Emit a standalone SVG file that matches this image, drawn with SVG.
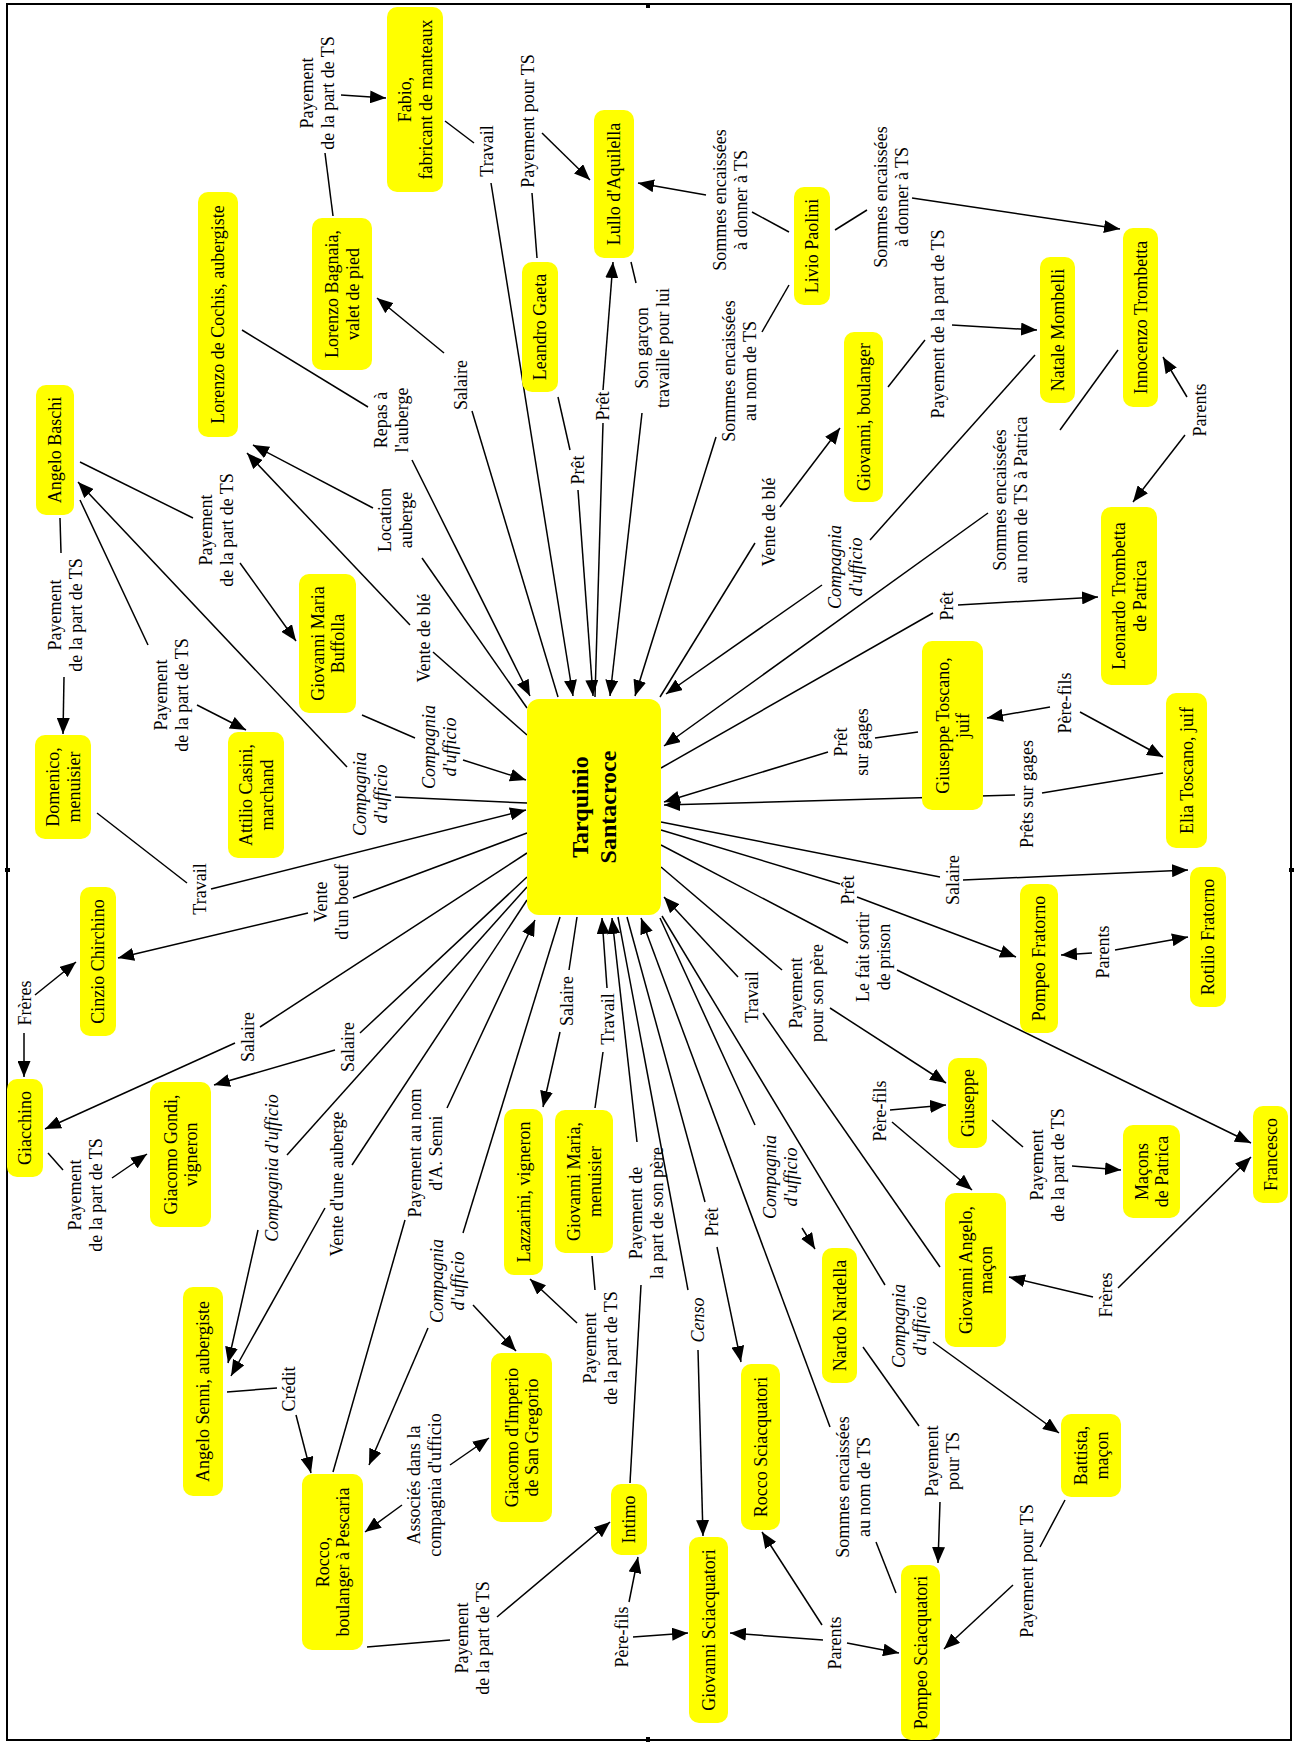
<svg xmlns="http://www.w3.org/2000/svg" width="1298" height="1742" viewBox="0 0 1298 1742">
<style>
.n rect{fill:#ffff00}
.t{font-family:"Liberation Serif","Times New Roman",serif;font-size:18px;text-anchor:middle;fill:#000}
.i{font-style:italic}
.b{font-weight:bold;font-size:24px}
#connectors line{stroke:#000;stroke-width:1.5;fill:none}
#connectors line.a{marker-end:url(#ar)}
.frame{fill:none;stroke:#000;stroke-width:2}
</style>
<defs>
<marker id="ar" viewBox="0 0 16 13" refX="16" refY="6.5" markerWidth="16" markerHeight="13" markerUnits="userSpaceOnUse" orient="auto"><path d="M0,0 L16,6.5 L0,13 Z" fill="#000"/></marker>
</defs>
<rect x="0" y="0" width="1298" height="1742" fill="#fff"/>
<rect class="frame" x="7" y="4" width="1284" height="1736"/>
<g fill="#000"><rect x="646" y="3" width="4" height="5"/><rect x="5" y="868" width="5" height="4"/><rect x="1289" y="868" width="5" height="4"/><rect x="646" y="1737" width="4" height="5"/></g>

<g id="connectors">
<line x1="333" y1="216" x2="325" y2="153"/>
<line class="a" x1="341" y1="95" x2="386" y2="98"/>
<line x1="445" y1="121" x2="474" y2="143"/>
<line class="a" x1="491" y1="183" x2="573" y2="696"/>
<line x1="242" y1="330" x2="368" y2="407"/>
<line class="a" x1="412" y1="460" x2="530" y2="696"/>
<line x1="527" y1="708" x2="422" y2="558"/>
<line class="a" x1="373" y1="508" x2="253" y2="445"/>
<line x1="527" y1="735" x2="433" y2="652"/>
<line class="a" x1="410" y1="625" x2="247" y2="453"/>
<line x1="558" y1="697" x2="472" y2="411"/>
<line class="a" x1="444" y1="353" x2="377" y2="298"/>
<line x1="537" y1="258" x2="532" y2="193"/>
<line class="a" x1="542" y1="133" x2="590" y2="180"/>
<line x1="558" y1="397" x2="570" y2="450"/>
<line class="a" x1="578" y1="490" x2="593" y2="696"/>
<line x1="595" y1="697" x2="603" y2="423"/>
<line class="a" x1="603" y1="390" x2="613" y2="262"/>
<line x1="631" y1="262" x2="636" y2="283"/>
<line class="a" x1="642" y1="413" x2="610" y2="696"/>
<line x1="789" y1="285" x2="762" y2="332"/>
<line class="a" x1="716" y1="437" x2="635" y2="696"/>
<line x1="789" y1="232" x2="752" y2="212"/>
<line class="a" x1="706" y1="195" x2="638" y2="183"/>
<line x1="835" y1="230" x2="867" y2="210"/>
<line class="a" x1="912" y1="198" x2="1120" y2="229"/>
<line x1="888" y1="387" x2="925" y2="340"/>
<line class="a" x1="952" y1="325" x2="1037" y2="330"/>
<line x1="660" y1="697" x2="755" y2="543"/>
<line class="a" x1="780" y1="507" x2="840" y2="428"/>
<line x1="1035" y1="355" x2="870" y2="540"/>
<line class="a" x1="822" y1="585" x2="666" y2="694"/>
<line x1="1118" y1="350" x2="1060" y2="430"/>
<line class="a" x1="988" y1="513" x2="664" y2="746"/>
<line class="a" x1="1187" y1="397" x2="1163" y2="357"/>
<line class="a" x1="1185" y1="435" x2="1133" y2="502"/>
<line x1="661" y1="768" x2="933" y2="613"/>
<line class="a" x1="958" y1="605" x2="1098" y2="597"/>
<line x1="918" y1="732" x2="875" y2="738"/>
<line class="a" x1="828" y1="752" x2="664" y2="802"/>
<line x1="1163" y1="773" x2="1042" y2="793"/>
<line class="a" x1="1015" y1="795" x2="664" y2="805"/>
<line class="a" x1="1050" y1="707" x2="987" y2="718"/>
<line class="a" x1="1080" y1="712" x2="1163" y2="757"/>
<line x1="661" y1="822" x2="940" y2="877"/>
<line class="a" x1="963" y1="880" x2="1188" y2="870"/>
<line x1="661" y1="830" x2="840" y2="884"/>
<line class="a" x1="857" y1="897" x2="1016" y2="957"/>
<line x1="661" y1="845" x2="848" y2="943"/>
<line class="a" x1="897" y1="970" x2="1251" y2="1143"/>
<line x1="661" y1="867" x2="782" y2="970"/>
<line class="a" x1="830" y1="1008" x2="946" y2="1083"/>
<line class="a" x1="738" y1="977" x2="664" y2="897"/>
<line x1="763" y1="1013" x2="940" y2="1267"/>
<line class="a" x1="1092" y1="953" x2="1061" y2="955"/>
<line class="a" x1="1115" y1="950" x2="1188" y2="937"/>
<line class="a" x1="890" y1="1110" x2="946" y2="1105"/>
<line class="a" x1="892" y1="1122" x2="972" y2="1190"/>
<line x1="992" y1="1120" x2="1023" y2="1147"/>
<line class="a" x1="1072" y1="1166" x2="1121" y2="1170"/>
<line class="a" x1="1093" y1="1297" x2="1009" y2="1277"/>
<line class="a" x1="1118" y1="1288" x2="1251" y2="1157"/>
<line x1="662" y1="916" x2="885" y2="1285"/>
<line class="a" x1="933" y1="1342" x2="1059" y2="1433"/>
<line x1="1065" y1="1500" x2="1040" y2="1547"/>
<line class="a" x1="1013" y1="1585" x2="944" y2="1649"/>
<line x1="660" y1="918" x2="755" y2="1125"/>
<line class="a" x1="802" y1="1228" x2="815" y2="1249"/>
<line x1="863" y1="1347" x2="919" y2="1426"/>
<line class="a" x1="940" y1="1502" x2="938" y2="1563"/>
<line x1="896" y1="1593" x2="876" y2="1542"/>
<line class="a" x1="830" y1="1427" x2="641" y2="918"/>
<line x1="627" y1="917" x2="705" y2="1202"/>
<line class="a" x1="717" y1="1247" x2="741" y2="1362"/>
<line x1="618" y1="917" x2="688" y2="1290"/>
<line class="a" x1="698" y1="1350" x2="703" y2="1536"/>
<line class="a" x1="823" y1="1640" x2="730" y2="1633"/>
<line class="a" x1="822" y1="1625" x2="762" y2="1532"/>
<line class="a" x1="847" y1="1643" x2="899" y2="1653"/>
<line class="a" x1="629" y1="1602" x2="638" y2="1557"/>
<line class="a" x1="633" y1="1637" x2="688" y2="1633"/>
<line x1="630" y1="1483" x2="641" y2="1285"/>
<line class="a" x1="637" y1="1142" x2="612" y2="918"/>
<line x1="595" y1="1108" x2="603" y2="1052"/>
<line class="a" x1="607" y1="988" x2="602" y2="918"/>
<line x1="577" y1="917" x2="569" y2="970"/>
<line class="a" x1="560" y1="1032" x2="543" y2="1107"/>
<line x1="592" y1="1256" x2="595" y2="1290"/>
<line class="a" x1="577" y1="1323" x2="530" y2="1279"/>
<line x1="560" y1="917" x2="463" y2="1233"/>
<line class="a" x1="428" y1="1328" x2="369" y2="1465"/>
<line class="a" x1="473" y1="1305" x2="516" y2="1351"/>
<line class="a" x1="402" y1="1505" x2="365" y2="1532"/>
<line class="a" x1="450" y1="1465" x2="489" y2="1438"/>
<line x1="367" y1="1647" x2="450" y2="1640"/>
<line class="a" x1="497" y1="1617" x2="610" y2="1522"/>
<line x1="333" y1="1472" x2="405" y2="1220"/>
<line class="a" x1="447" y1="1108" x2="535" y2="920"/>
<line x1="227" y1="1392" x2="277" y2="1388"/>
<line class="a" x1="296" y1="1415" x2="311" y2="1473"/>
<line x1="527" y1="887" x2="287" y2="1155"/>
<line class="a" x1="258" y1="1230" x2="228" y2="1363"/>
<line x1="527" y1="900" x2="352" y2="1165"/>
<line class="a" x1="325" y1="1208" x2="231" y2="1376"/>
<line x1="527" y1="877" x2="360" y2="1033"/>
<line class="a" x1="335" y1="1050" x2="214" y2="1085"/>
<line x1="527" y1="853" x2="260" y2="1027"/>
<line class="a" x1="235" y1="1043" x2="45" y2="1129"/>
<line x1="48" y1="1153" x2="63" y2="1170"/>
<line class="a" x1="112" y1="1178" x2="147" y2="1154"/>
<line class="a" x1="24" y1="1033" x2="24" y2="1077"/>
<line class="a" x1="35" y1="995" x2="76" y2="962"/>
<line x1="527" y1="833" x2="353" y2="898"/>
<line class="a" x1="308" y1="913" x2="118" y2="958"/>
<line x1="97" y1="813" x2="187" y2="883"/>
<line class="a" x1="211" y1="889" x2="526" y2="810"/>
<line x1="362" y1="715" x2="415" y2="738"/>
<line class="a" x1="463" y1="760" x2="526" y2="780"/>
<line x1="527" y1="803" x2="395" y2="797"/>
<line class="a" x1="347" y1="767" x2="78" y2="482"/>
<line x1="60" y1="518" x2="61" y2="553"/>
<line class="a" x1="64" y1="677" x2="63" y2="734"/>
<line x1="80" y1="500" x2="148" y2="645"/>
<line class="a" x1="197" y1="705" x2="246" y2="730"/>
<line x1="80" y1="462" x2="193" y2="518"/>
<line class="a" x1="240" y1="563" x2="296" y2="641"/>
</g>

<g id="edge-labels" class="t">
<text transform="translate(317,93) rotate(-90)"><tspan x="0" y="-4">Payement</tspan><tspan x="0" y="16.5">de la part de TS</tspan></text>
<text transform="translate(487,151) rotate(-90)" y="6">Travail</text>
<text transform="translate(528,121) rotate(-90)" y="6">Payement pour TS</text>
<text transform="translate(730,200) rotate(-90)"><tspan x="0" y="-4">Sommes encaissées</tspan><tspan x="0" y="16.5">à donner à TS</tspan></text>
<text transform="translate(891,197) rotate(-90)"><tspan x="0" y="-4">Sommes encaissées</tspan><tspan x="0" y="16.5">à donner à TS</tspan></text>
<text transform="translate(739,371) rotate(-90)"><tspan x="0" y="-4">Sommes encaissées</tspan><tspan x="0" y="16.5">au nom de TS</tspan></text>
<text transform="translate(652,348) rotate(-90)"><tspan x="0" y="-4">Son garçon</tspan><tspan x="0" y="16.5">travaille pour lui</tspan></text>
<text transform="translate(603,406) rotate(-90)" y="6">Prêt</text>
<text transform="translate(578,470) rotate(-90)" y="6">Prêt</text>
<text transform="translate(461,385) rotate(-90)" y="6">Salaire</text>
<text transform="translate(391,420) rotate(-90)"><tspan x="0" y="-4">Repas à</tspan><tspan x="0" y="16.5">l'auberge</tspan></text>
<text transform="translate(395,520) rotate(-90)"><tspan x="0" y="-4">Location</tspan><tspan x="0" y="16.5">auberge</tspan></text>
<text transform="translate(424,638) rotate(-90)" y="6">Vente de blé</text>
<text transform="translate(216,530) rotate(-90)"><tspan x="0" y="-4">Payement</tspan><tspan x="0" y="16.5">de la part de TS</tspan></text>
<text transform="translate(65,615) rotate(-90)"><tspan x="0" y="-4">Payement</tspan><tspan x="0" y="16.5">de la part de TS</tspan></text>
<text transform="translate(171,695) rotate(-90)"><tspan x="0" y="-4">Payement</tspan><tspan x="0" y="16.5">de la part de TS</tspan></text>
<text class="i" transform="translate(370,794) rotate(-90)"><tspan x="0" y="-4">Compagnia</tspan><tspan x="0" y="16.5">d'ufficio</tspan></text>
<text class="i" transform="translate(439,747) rotate(-90)"><tspan x="0" y="-4">Compagnia</tspan><tspan x="0" y="16.5">d'ufficio</tspan></text>
<text transform="translate(200,889) rotate(-90)" y="6">Travail</text>
<text transform="translate(331,902) rotate(-90)"><tspan x="0" y="-4">Vente</tspan><tspan x="0" y="16.5">d'un boeuf</tspan></text>
<text transform="translate(25,1003) rotate(-90)" y="6">Frères</text>
<text transform="translate(248,1037) rotate(-90)" y="6">Salaire</text>
<text transform="translate(348,1047) rotate(-90)" y="6">Salaire</text>
<text transform="translate(85,1195) rotate(-90)"><tspan x="0" y="-4">Payement</tspan><tspan x="0" y="16.5">de la part de TS</tspan></text>
<text class="i" transform="translate(272,1168) rotate(-90)" y="6">Compagnia d'ufficio</text>
<text transform="translate(337,1184) rotate(-90)" y="6">Vente d'une auberge</text>
<text transform="translate(425,1153) rotate(-90)"><tspan x="0" y="-4">Payement au nom</tspan><tspan x="0" y="16.5">d'A. Senni</tspan></text>
<text class="i" transform="translate(447,1281) rotate(-90)"><tspan x="0" y="-4">Compagnia</tspan><tspan x="0" y="16.5">d'ufficio</tspan></text>
<text transform="translate(289,1389) rotate(-90)" y="6">Crédit</text>
<text transform="translate(424,1485) rotate(-90)"><tspan x="0" y="-4">Associés dans la</tspan><tspan x="0" y="16.5">compagnia d'ufficio</tspan></text>
<text transform="translate(472,1638) rotate(-90)"><tspan x="0" y="-4">Payement</tspan><tspan x="0" y="16.5">de la part de TS</tspan></text>
<text transform="translate(567,1001) rotate(-90)" y="6">Salaire</text>
<text transform="translate(608,1019) rotate(-90)" y="6">Travail</text>
<text transform="translate(600,1348) rotate(-90)"><tspan x="0" y="-4">Payement</tspan><tspan x="0" y="16.5">de la part de TS</tspan></text>
<text transform="translate(646,1213) rotate(-90)"><tspan x="0" y="-4">Payement de</tspan><tspan x="0" y="16.5">la part de son père</tspan></text>
<text class="i" transform="translate(698,1320) rotate(-90)" y="6">Censo</text>
<text transform="translate(712,1222) rotate(-90)" y="6">Prêt</text>
<text transform="translate(622,1637) rotate(-90)" y="6">Père-fils</text>
<text transform="translate(835,1643) rotate(-90)" y="6">Parents</text>
<text transform="translate(853,1487) rotate(-90)"><tspan x="0" y="-4">Sommes encaissées</tspan><tspan x="0" y="16.5">au nom de TS</tspan></text>
<text class="i" transform="translate(780,1177) rotate(-90)"><tspan x="0" y="-4">Compagnia</tspan><tspan x="0" y="16.5">d'ufficio</tspan></text>
<text transform="translate(942,1461) rotate(-90)"><tspan x="0" y="-4">Payement</tspan><tspan x="0" y="16.5">pour TS</tspan></text>
<text class="i" transform="translate(909,1326) rotate(-90)"><tspan x="0" y="-4">Compagnia</tspan><tspan x="0" y="16.5">d'ufficio</tspan></text>
<text transform="translate(1027,1571) rotate(-90)" y="6">Payement pour TS</text>
<text transform="translate(752,997) rotate(-90)" y="6">Travail</text>
<text transform="translate(806,993) rotate(-90)"><tspan x="0" y="-4">Payement</tspan><tspan x="0" y="16.5">pour son père</tspan></text>
<text transform="translate(873,957) rotate(-90)"><tspan x="0" y="-4">Le fait sortir</tspan><tspan x="0" y="16.5">de prison</tspan></text>
<text transform="translate(848,890) rotate(-90)" y="6">Prêt</text>
<text transform="translate(953,880) rotate(-90)" y="6">Salaire</text>
<text transform="translate(1103,952) rotate(-90)" y="6">Parents</text>
<text transform="translate(880,1111) rotate(-90)" y="6">Père-fils</text>
<text transform="translate(1047,1165) rotate(-90)"><tspan x="0" y="-4">Payement</tspan><tspan x="0" y="16.5">de la part de TS</tspan></text>
<text transform="translate(1106,1295) rotate(-90)" y="6">Frères</text>
<text transform="translate(947,606) rotate(-90)" y="6">Prêt</text>
<text transform="translate(851,742) rotate(-90)"><tspan x="0" y="-4">Prêt</tspan><tspan x="0" y="16.5">sur gages</tspan></text>
<text transform="translate(1027,794) rotate(-90)" y="6">Prêts sur gages</text>
<text transform="translate(1065,703) rotate(-90)" y="6">Père-fils</text>
<text transform="translate(1010,500) rotate(-90)"><tspan x="0" y="-4">Sommes encaissées</tspan><tspan x="0" y="16.5">au nom de TS à Patrica</tspan></text>
<text transform="translate(1200,410) rotate(-90)" y="6">Parents</text>
<text transform="translate(938,324) rotate(-90)" y="6">Payement de la part de TS</text>
<text transform="translate(769,522) rotate(-90)" y="6">Vente de blé</text>
<text class="i" transform="translate(845,567) rotate(-90)"><tspan x="0" y="-4">Compagnia</tspan><tspan x="0" y="16.5">d'ufficio</tspan></text>
</g>

<g id="node-fabio" class="n"><rect x="387" y="7" width="56" height="185" rx="10"/><text class="t" transform="translate(415,99.5) rotate(-90)"><tspan x="0" y="-4">Fabio,</tspan><tspan x="0" y="16.5">fabricant de manteaux</tspan></text></g>
<g id="node-bagnaia" class="n"><rect x="312" y="218" width="60" height="152" rx="10"/><text class="t" transform="translate(342,294) rotate(-90)"><tspan x="0" y="-4">Lorenzo Bagnaia,</tspan><tspan x="0" y="16.5">valet de pied</tspan></text></g>
<g id="node-cochis" class="n"><rect x="198" y="192" width="40" height="245" rx="10"/><text class="t" transform="translate(218,314.5) rotate(-90)" y="6">Lorenzo de Cochis, aubergiste</text></g>
<g id="node-baschi" class="n"><rect x="36" y="385" width="38" height="130" rx="10"/><text class="t" transform="translate(55,450) rotate(-90)" y="6">Angelo Baschi</text></g>
<g id="node-domenico" class="n"><rect x="35" y="735" width="56" height="104" rx="10"/><text class="t" transform="translate(63,787) rotate(-90)"><tspan x="0" y="-4">Domenico,</tspan><tspan x="0" y="16.5">menuisier</tspan></text></g>
<g id="node-attilio" class="n"><rect x="228" y="732" width="56" height="126" rx="10"/><text class="t" transform="translate(256,795) rotate(-90)"><tspan x="0" y="-4">Attilio Casini,</tspan><tspan x="0" y="16.5">marchand</tspan></text></g>
<g id="node-buffolla" class="n"><rect x="299" y="574" width="57" height="139" rx="10"/><text class="t" transform="translate(327.5,643.5) rotate(-90)"><tspan x="0" y="-4">Giovanni Maria</tspan><tspan x="0" y="16.5">Buffolla</tspan></text></g>
<g id="node-tarquinio" class="n"><rect x="527" y="699" width="134" height="216" rx="12"/><text class="t b" transform="translate(594,807) rotate(-90)"><tspan x="0" y="-5.6">Tarquinio</tspan><tspan x="0" y="22.4">Santacroce</tspan></text></g>
<g id="node-leandro" class="n"><rect x="522" y="262" width="36" height="130" rx="10"/><text class="t" transform="translate(540,327) rotate(-90)" y="6">Leandro Gaeta</text></g>
<g id="node-lullo" class="n"><rect x="594" y="110" width="40" height="148" rx="10"/><text class="t" transform="translate(614,184) rotate(-90)" y="6">Lullo d'Aquilella</text></g>
<g id="node-livio" class="n"><rect x="794" y="187" width="36" height="118" rx="10"/><text class="t" transform="translate(812,246) rotate(-90)" y="6">Livio Paolini</text></g>
<g id="node-giovanni-boulanger" class="n"><rect x="844" y="332" width="39" height="170" rx="10"/><text class="t" transform="translate(863.5,417) rotate(-90)" y="6">Giovanni, boulanger</text></g>
<g id="node-natale" class="n"><rect x="1040" y="257" width="35" height="146" rx="10"/><text class="t" transform="translate(1057.5,330) rotate(-90)" y="6">Natale Mombelli</text></g>
<g id="node-innocenzo" class="n"><rect x="1123" y="228" width="35" height="179" rx="10"/><text class="t" transform="translate(1140.5,317.5) rotate(-90)" y="6">Innocenzo Trombetta</text></g>
<g id="node-leonardo" class="n"><rect x="1101" y="507" width="56" height="178" rx="10"/><text class="t" transform="translate(1129,596) rotate(-90)"><tspan x="0" y="-4">Leonardo Trombetta</tspan><tspan x="0" y="16.5">de Patrica</tspan></text></g>
<g id="node-giuseppe-toscano" class="n"><rect x="922" y="641" width="61" height="169" rx="10"/><text class="t" transform="translate(952.5,725.5) rotate(-90)"><tspan x="0" y="-4">Giuseppe Toscano,</tspan><tspan x="0" y="16.5">juif</tspan></text></g>
<g id="node-elia" class="n"><rect x="1166" y="693" width="41" height="155" rx="10"/><text class="t" transform="translate(1186.5,770.5) rotate(-90)" y="6">Elia Toscano, juif</text></g>
<g id="node-rotilio" class="n"><rect x="1190" y="867" width="36" height="140" rx="10"/><text class="t" transform="translate(1208,937) rotate(-90)" y="6">Rotilio Fratorno</text></g>
<g id="node-pompeo-fratorno" class="n"><rect x="1020" y="884" width="38" height="149" rx="10"/><text class="t" transform="translate(1039,958.5) rotate(-90)" y="6">Pompeo Fratorno</text></g>
<g id="node-giuseppe" class="n"><rect x="948" y="1058" width="39" height="90" rx="10"/><text class="t" transform="translate(967.5,1103) rotate(-90)" y="6">Giuseppe</text></g>
<g id="node-macons" class="n"><rect x="1123" y="1125" width="57" height="93" rx="10"/><text class="t" transform="translate(1151.5,1171.5) rotate(-90)"><tspan x="0" y="-4">Maçons</tspan><tspan x="0" y="16.5">de Patrica</tspan></text></g>
<g id="node-francesco" class="n"><rect x="1253" y="1106" width="35" height="97" rx="10"/><text class="t" transform="translate(1270.5,1154.5) rotate(-90)" y="6">Francesco</text></g>
<g id="node-giovanni-angelo" class="n"><rect x="945" y="1193" width="61" height="154" rx="10"/><text class="t" transform="translate(975.5,1270) rotate(-90)"><tspan x="0" y="-4">Giovanni Angelo,</tspan><tspan x="0" y="16.5">maçon</tspan></text></g>
<g id="node-battista" class="n"><rect x="1061" y="1414" width="60" height="83" rx="10"/><text class="t" transform="translate(1091,1455.5) rotate(-90)"><tspan x="0" y="-4">Battista,</tspan><tspan x="0" y="16.5">maçon</tspan></text></g>
<g id="node-pompeo-sciacquatori" class="n"><rect x="901" y="1565" width="39" height="175" rx="10"/><text class="t" transform="translate(920.5,1652.5) rotate(-90)" y="6">Pompeo Sciacquatori</text></g>
<g id="node-nardo" class="n"><rect x="822" y="1248" width="35" height="135" rx="10"/><text class="t" transform="translate(839.5,1315.5) rotate(-90)" y="6">Nardo Nardella</text></g>
<g id="node-rocco-sciacquatori" class="n"><rect x="741" y="1364" width="39" height="166" rx="10"/><text class="t" transform="translate(760.5,1447) rotate(-90)" y="6">Rocco Sciacquatori</text></g>
<g id="node-giovanni-sciacquatori" class="n"><rect x="689" y="1537" width="39" height="186" rx="10"/><text class="t" transform="translate(708.5,1630) rotate(-90)" y="6">Giovanni Sciacquatori</text></g>
<g id="node-intimo" class="n"><rect x="611" y="1484" width="36" height="71" rx="10"/><text class="t" transform="translate(629,1519.5) rotate(-90)" y="6">Intimo</text></g>
<g id="node-imperio" class="n"><rect x="491" y="1353" width="61" height="169" rx="10"/><text class="t" transform="translate(521.5,1437.5) rotate(-90)"><tspan x="0" y="-4">Giacomo d'Imperio</tspan><tspan x="0" y="16.5">de San Gregorio</tspan></text></g>
<g id="node-lazzarini" class="n"><rect x="504" y="1109" width="39" height="166" rx="10"/><text class="t" transform="translate(523.5,1192) rotate(-90)" y="6">Lazzarini, vigneron</text></g>
<g id="node-giovanni-maria-menuisier" class="n"><rect x="555" y="1110" width="58" height="143" rx="10"/><text class="t" transform="translate(584,1181.5) rotate(-90)"><tspan x="0" y="-4">Giovanni Maria,</tspan><tspan x="0" y="16.5">menuisier</tspan></text></g>
<g id="node-rocco" class="n"><rect x="302" y="1474" width="61" height="176" rx="10"/><text class="t" transform="translate(332.5,1562) rotate(-90)"><tspan x="0" y="-4">Rocco,</tspan><tspan x="0" y="16.5">boulanger à Pescaria</tspan></text></g>
<g id="node-senni" class="n"><rect x="183" y="1287" width="40" height="209" rx="10"/><text class="t" transform="translate(203,1391.5) rotate(-90)" y="6">Angelo Senni, aubergiste</text></g>
<g id="node-gondi" class="n"><rect x="150" y="1082" width="61" height="145" rx="10"/><text class="t" transform="translate(180.5,1154.5) rotate(-90)"><tspan x="0" y="-4">Giacomo Gondi,</tspan><tspan x="0" y="16.5">vigneron</tspan></text></g>
<g id="node-giacchino" class="n"><rect x="7" y="1079" width="36" height="98" rx="10"/><text class="t" transform="translate(25,1128) rotate(-90)" y="6">Giacchino</text></g>
<g id="node-cinzio" class="n"><rect x="80" y="887" width="36" height="149" rx="10"/><text class="t" transform="translate(98,961.5) rotate(-90)" y="6">Cinzio Chirchino</text></g>
</svg>
